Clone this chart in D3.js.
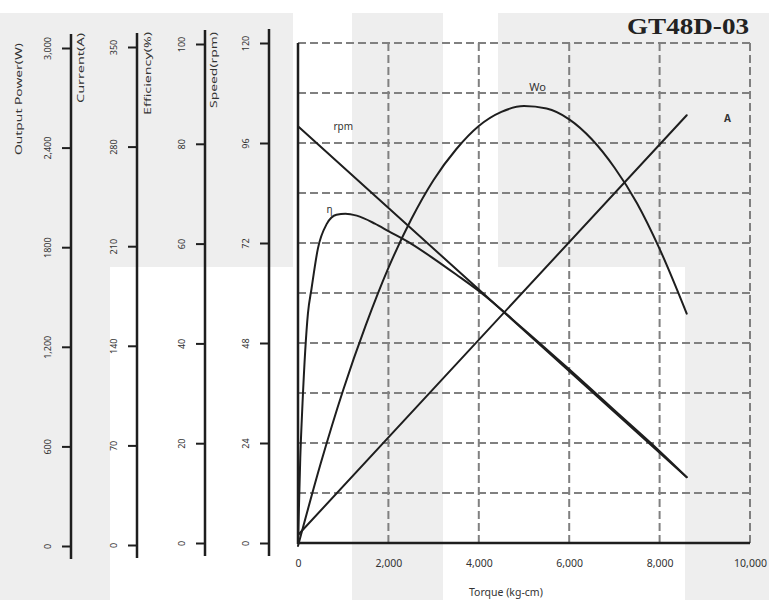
<!DOCTYPE html>
<html>
<head>
<meta charset="utf-8">
<script src="https://cdn.jsdelivr.net/npm/d3@7"></script>
<style>
  html, body { margin: 0; padding: 0; background: #ffffff; }
  svg { display: block; }
</style>
</head>
<body>
<svg id="chart" width="769" height="600"></svg>
<script>
// ---------------- data ----------------
const chartTitle = "GT48D-03";
const xTitle = "Torque (kg-cm)";
const torqueTicks = [0, 2000, 4000, 6000, 8000, 10000];
const torqueTickLabels = ["0", "2,000", "4,000", "6,000", "8,000", "10,000"];

const powerTicks = [0, 600, 1200, 1800, 2400, 3000];
const powerTickLabels = ["0", "600", "1,200", "1800", "2,400", "3,000"];
const currentTicks = [0, 70, 140, 210, 280, 350];
const currentTickLabels = ["0", "70", "140", "210", "280", "350"];
const effTicks = [0, 20, 40, 60, 80, 100];
const effTickLabels = ["0", "20", "40", "60", "80", "100"];
const speedTicks = [0, 24, 48, 72, 96, 120];
const speedTickLabels = ["0", "24", "48", "72", "96", "120"];
const speedGridTicks = [0, 12, 24, 36, 48, 60, 72, 84, 96, 108, 120];

const axisTitles = ["Output Power(W)", "Current(A)", "Efficiency(%)", "Speed(rpm)"];

// speed (rpm) vs torque
const speedTorque = [0, 8600];
const speedValues = [100, 15.8];
// current (A) vs torque
const currentTorque = [0, 8600];
const currentValues = [7, 302];
// output power (W) vs torque
const powerTorque = [0, 500, 1000, 1500, 2000, 2500, 3000, 3500, 4000, 4500, 5000, 5500, 6000, 6500, 7000, 7500, 8000, 8600];
const powerValues = [0, 495, 940, 1330, 1675, 1965, 2205, 2390, 2530, 2615, 2650, 2635, 2570, 2450, 2280, 2065, 1790, 1400];
// efficiency (%) vs torque
const effTorque = [0, 50, 100, 220, 300, 440, 640, 850, 1050, 1300, 1700, 2000, 2500, 3000, 3500, 4000, 5000, 6000, 7000, 8000, 8600];
const effValues = [0, 17, 28, 46, 51, 59, 64, 65.8, 66, 65.6, 64, 62.5, 60, 57, 53.8, 50.5, 42.8, 34.8, 26.6, 18.4, 13.2];

// ---------------- layout ----------------
const svg = d3.select("#chart");
const plot = { left: 298, right: 750, top: 43, bottom: 543 };
const ink = "#1e1e1e";
const sans = "'Noto Sans', 'Open Sans', 'Liberation Sans', sans-serif";

// background watermark blocks
const bgBlocks = [
  [0, 13, 110, 587], [110, 13, 183, 254], [352, 13, 91, 587],
  [498, 13, 271, 254], [685, 267, 84, 333]
];
svg.append("g").selectAll("rect").data(bgBlocks).join("rect")
  .attr("x", d => d[0]).attr("y", d => d[1]).attr("width", d => d[2]).attr("height", d => d[3])
  .attr("fill", "#eeeeee");

// scales
const x = d3.scaleLinear().domain([0, 10000]).range([plot.left, plot.right]);
const ySpeed = d3.scaleLinear().domain([0, 120]).range([plot.bottom, plot.top]);
const yEff = d3.scaleLinear().domain([0, 100]).range([543, 44]);
const yCurrent = d3.scaleLinear().domain([0, 350]).range([545, 47]);
const yPower = d3.scaleLinear().domain([0, 3000]).range([546, 48]);

// grid
const grid = svg.append("g").attr("stroke", "#808080").attr("stroke-width", 2).attr("stroke-dasharray", "8,4");
grid.selectAll("line.h").data(speedGridTicks.slice(1)).join("line")
  .attr("x1", plot.left).attr("x2", plot.right)
  .attr("y1", d => ySpeed(d)).attr("y2", d => ySpeed(d));
grid.selectAll("line.v").data(torqueTicks.slice(1)).join("line")
  .attr("y1", plot.top).attr("y2", plot.bottom)
  .attr("x1", d => x(d)).attr("x2", d => x(d));

// solid frame (left and bottom)
svg.append("line").attr("x1", plot.left).attr("x2", plot.left).attr("y1", plot.top).attr("y2", plot.bottom + 1)
  .attr("stroke", ink).attr("stroke-width", 2.5);
svg.append("line").attr("x1", plot.left - 1).attr("x2", plot.right).attr("y1", plot.bottom).attr("y2", plot.bottom)
  .attr("stroke", ink).attr("stroke-width", 2.5);

// x axis labels
const xAxis = d3.axisBottom(x).tickValues(torqueTicks).tickFormat((d, i) => torqueTickLabels[i]).tickSize(0).tickPadding(0);
const gx = svg.append("g").attr("transform", `translate(0,${plot.bottom})`).call(xAxis);
gx.select(".domain").remove();
gx.selectAll("text").attr("y", 20).attr("dy", "0.35em")
  .attr("font-family", sans).attr("font-size", 10.5).attr("fill", "#333");
svg.append("text").attr("x", x(4600)).attr("y", 596).attr("text-anchor", "middle")
  .attr("font-family", sans).attr("font-size", 10.5).attr("fill", "#333").text(xTitle);

// left stacked axes
const leftAxes = [
  { scale: yPower, ticks: powerTicks, labels: powerTickLabels, ax: 71, title: axisTitles[0], tx: 18, tEnd: 43, tLen: 112 },
  { scale: yCurrent, ticks: currentTicks, labels: currentTickLabels, ax: 137, title: axisTitles[1], tx: 80, tEnd: 33, tLen: 70 },
  { scale: yEff, ticks: effTicks, labels: effTickLabels, ax: 205, title: axisTitles[2], tx: 147, tEnd: 32, tLen: 83 },
  { scale: ySpeed, ticks: speedTicks, labels: speedTickLabels, ax: 269, title: axisTitles[3], tx: 213, tEnd: 32, tLen: 76 }
];
leftAxes.forEach(a => {
  const axis = d3.axisLeft(a.scale).tickValues(a.ticks).tickFormat((d, i) => a.labels[i]).tickSize(9).tickSizeOuter(0);
  const g = svg.append("g").attr("transform", `translate(${a.ax},0)`).call(axis);
  g.select(".domain").remove();
  g.selectAll(".tick line").attr("stroke", ink).attr("stroke-width", 2);
  g.selectAll(".tick text")
    .attr("x", null).attr("dy", null)
    .attr("transform", "translate(-24,0) rotate(-90)")
    .attr("text-anchor", "middle").attr("dominant-baseline", "central")
    .attr("font-family", sans).attr("font-size", 9).attr("fill", "#333");
  const [r0, r1] = a.scale.range();
  g.append("line").attr("x1", 0).attr("x2", 0).attr("y1", r1 - 14).attr("y2", r0 + 13)
    .attr("stroke", ink).attr("stroke-width", 2.5);
  svg.append("text")
    .attr("transform", `translate(${a.tx},${a.tEnd}) rotate(-90)`)
    .attr("text-anchor", "end").attr("dominant-baseline", "central")
    .attr("font-family", sans).attr("font-size", 9.5).attr("fill", "#333")
    .attr("textLength", a.tLen).attr("lengthAdjust", "spacingAndGlyphs")
    .text(a.title);
});

// curves
const curves = [
  { t: speedTorque, v: speedValues, y: ySpeed, curve: d3.curveLinear },
  { t: currentTorque, v: currentValues, y: yCurrent, curve: d3.curveLinear },
  { t: powerTorque, v: powerValues, y: yPower, curve: d3.curveMonotoneX },
  { t: effTorque, v: effValues, y: yEff, curve: d3.curveMonotoneX }
];
curves.forEach(c => {
  const pts = c.t.map((t, i) => [t, c.v[i]]);
  const line = d3.line().x(d => x(d[0])).y(d => c.y(d[1])).curve(c.curve);
  svg.append("path").attr("d", line(pts)).attr("fill", "none")
    .attr("stroke", ink).attr("stroke-width", 2).attr("stroke-linecap", "round");
});

// curve labels
const curveLabels = [
  { text: "rpm", t: 1000, v: 100, y: ySpeed, size: 10 },
  { text: "Wo", t: 5300, v: 2770, y: yPower, size: 11 },
  { text: "A", t: 9500, v: 300, y: yCurrent, size: 10 },
  { text: "η", t: 700, v: 67, y: yEff, size: 10 }
];
curveLabels.forEach(l => {
  svg.append("text").attr("x", x(l.t)).attr("y", l.y(l.v)).attr("text-anchor", "middle")
    .attr("dominant-baseline", "central")
    .attr("font-family", sans).attr("font-size", l.size).attr("font-weight", l.text === "A" ? "bold" : "normal")
    .attr("fill", "#333").text(l.text);
});

// title
svg.append("text").attr("x", 749).attr("y", 34).attr("text-anchor", "end")
  .attr("font-family", "'Liberation Serif', 'Times New Roman', serif").attr("font-weight", "bold")
  .attr("font-size", 23).attr("fill", "#222")
  .attr("textLength", 122).attr("lengthAdjust", "spacingAndGlyphs")
  .text(chartTitle);
</script>
</body>
</html>
